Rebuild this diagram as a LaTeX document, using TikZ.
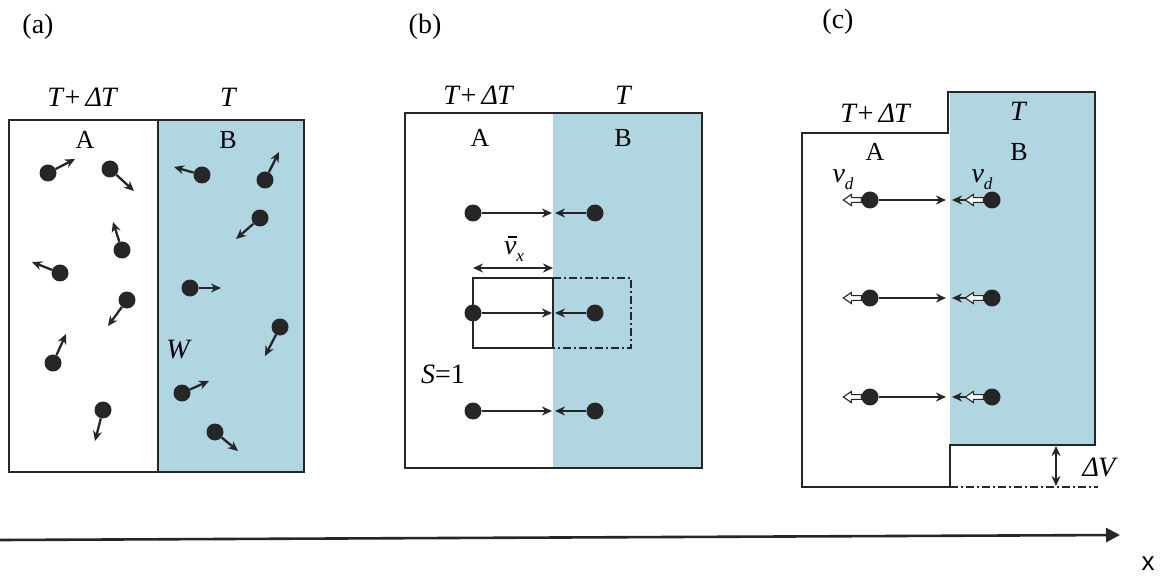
\documentclass[tikz,border=0pt]{standalone}
\usepackage{fontspec}
\setmainfont{Liberation Serif}
\setsansfont{Liberation Sans}
\usetikzlibrary{arrows.meta}
\definecolor{pblue}{RGB}{176,214,226}
\definecolor{ink}{RGB}{38,38,38}
\tikzset{
  dot/.style={circle,fill=ink,draw=none,minimum size=17pt,inner sep=0pt},
  vec/.style={draw=ink,line width=2.3pt,-{Stealth[length=10pt,width=9pt]}},
  dvec/.style={draw=ink,line width=2.3pt,{Stealth[length=10pt,width=9pt]}-{Stealth[length=10pt,width=9pt]}},
  frame/.style={draw=ink,line width=1.5pt},
  lbl/.style={font=\fontsize{28}{30}\selectfont\itshape,inner sep=0pt},
  ab/.style={font=\fontsize{26}{28}\selectfont,inner sep=0pt},
  tag/.style={font=\fontsize{28}{30}\selectfont,inner sep=0pt},
  dashdot/.style={draw=ink,line width=1.4pt,dash pattern=on 8pt off 3pt on 2pt off 3pt},
  hollow/.pic={\draw[fill=white,draw=ink,line width=1.1pt]
     (0,-2.4) -- (-10,-2.4) -- (-10,-5.5) -- (-18,0) -- (-10,5.5) -- (-10,2.4) -- (0,2.4) -- cycle;}
}
\newcommand{\subd}[1]{\raisebox{-7pt}{\fontsize{17}{18}\selectfont\itshape #1}}
\begin{document}
\begin{tikzpicture}[x=1pt,y=-1pt]
\useasboundingbox (0,0) rectangle (1165,580);
\fill[white] (0,0) rectangle (1165,580);

% ---------------- (a) ----------------
\node[tag] (ta) at (38,27) {(a)};
\fill[pblue] (158,120) rectangle (304,472);
\draw[frame] (9,120) rectangle (304,472);
\draw[frame] (158,120) -- (158,472);
\node[lbl] (a1) at (82,97) {T+\hspace{4pt}Δ\hspace{-1pt}T};
\node[lbl] (a2) at (228,97) {T};
\node[ab] (aA) at (85,140) {A};
\node[ab] (aB) at (228,140) {B};
\node[lbl] (aW) at (178,350) {W};

\foreach \n/\dx/\dy/\tx/\ty in {
 1/48/173/75/159, 2/110/169/134/191, 3/122/250/113/222, 4/60/273/32/262,
 5/127/300/108/326, 6/53/363/66/334, 7/103/410/95/441,
 8/202/175/174/167, 9/265/180/279/152, 10/260/218/236/239, 11/190/288/221/288,
 12/280/327/265/356, 13/182/393/209/381, 14/215/432/238/451}{
  \node[dot] (pa\n) at (\dx,\dy) {};
  \coordinate (qa\n) at (\tx,\ty);
  \draw[vec] (pa\n) -- (qa\n);
}

% ---------------- (b) ----------------
\node[tag] (tb) at (425,27) {(b)};
\fill[pblue] (553,113) rectangle (702,468);
\draw[frame] (405,113) rectangle (702,468);
\node[lbl] (b1) at (478,95) {T+\hspace{4pt}Δ\hspace{-1pt}T};
\node[lbl] (b2) at (623,95) {T};
\node[ab] (bA) at (480,138) {A};
\node[ab] (bB) at (623,138) {B};

\draw[frame] (473,278) rectangle (553,348);
\draw[dashdot] (553,278) -- (631,278) -- (631,348) -- (553,348);

\foreach \n/\y in {1/213,2/313,3/411}{
  \node[dot] (bl\n) at (473,\y) {};
  \node[dot] (br\n) at (595,\y) {};
  \coordinate (bm\n) at (552,\y);
  \coordinate (bn\n) at (555,\y);
  \draw[vec] (bl\n) -- (bm\n);
  \draw[vec] (br\n) -- (bn\n);
}
\coordinate (vx1) at (473,268);
\coordinate (vx2) at (553,268);
\draw[dvec] (vx1) -- (vx2);
\node[lbl] (bv) at (514,249) {\rlap{\raisebox{17pt}{\hspace{4pt}\rule{9pt}{1.4pt}}}v\subd{x}};
\node[lbl] (bS) at (443,374) {S\textup{=1}};

% ---------------- (c) ----------------
\node[tag] (tc) at (838,22) {(c)};
\fill[pblue] (950,92) rectangle (1095,445);
\draw[frame] (802,133) -- (948,133) -- (948,92) -- (1095,92) -- (1095,445)
   -- (950,445) -- (950,487) -- (802,487) -- cycle;
\draw[dashdot] (950,487) -- (1098,487);
\coordinate (dv1) at (1056,446);
\coordinate (dv2) at (1056,486);
\draw[dvec,line width=2pt] (dv1) -- (dv2);
\node[lbl] (cdv) at (1099,467) {Δ\hspace{-1pt}V};

\node[lbl] (c1) at (875,113) {T+\hspace{4pt}Δ\hspace{-1pt}T};
\node[lbl] (c2) at (1018,111) {T};
\node[ab] (cA) at (875,152) {A};
\node[ab] (cB) at (1019,152) {B};
\node[lbl] (cv1) at (843,180) {v\subd{d}};
\node[lbl] (cv2) at (982,180) {v\subd{d}};

\foreach \n/\y in {1/200,2/298,3/397}{
  \node[dot] (cl\n) at (870,\y) {};
  \node[dot] (cr\n) at (992,\y) {};
  \coordinate (cm\n) at (946,\y);
  \coordinate (cn\n) at (952,\y);
  \draw[vec] (cl\n) -- (cm\n);
  \draw[vec] (cr\n) -- (cn\n);
  \pic at (cl\n.west) {hollow};
  \pic at (cr\n.west) {hollow};
}

% ---------------- axis ----------------
\coordinate (ax0) at (0,540);
\coordinate (ax1) at (1120,535);
\draw[draw=ink,line width=2.6pt,-{Triangle[length=14pt,width=14pt]}] (ax0) -- (ax1);
\node[font=\sffamily\fontsize{26}{28}\selectfont,inner sep=0pt] (xl) at (1148,564) {x};
\end{tikzpicture}
\end{document}
